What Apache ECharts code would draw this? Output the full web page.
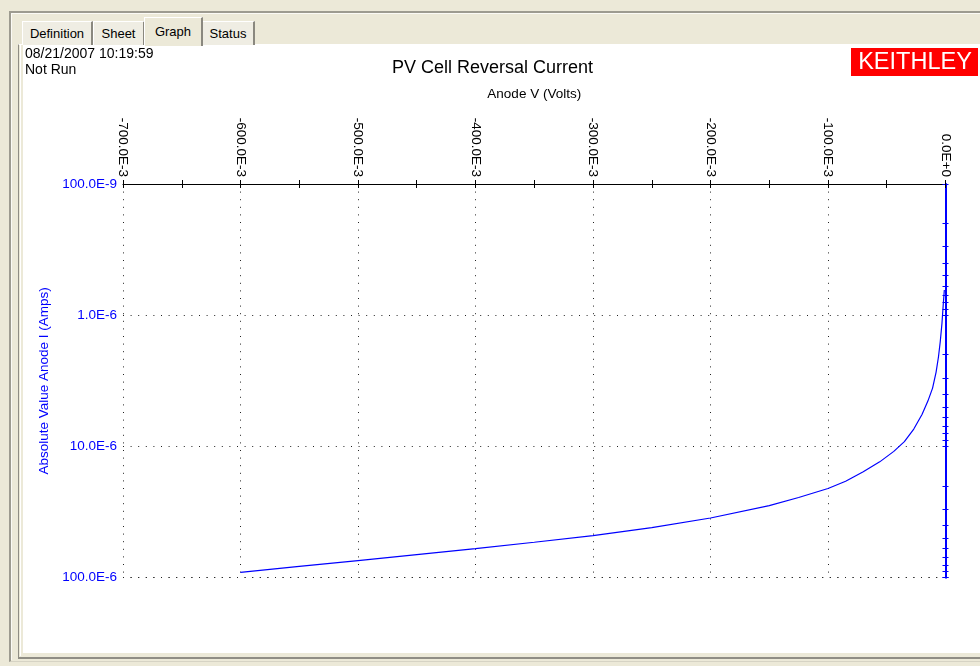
<!DOCTYPE html>
<html>
<head>
<meta charset="utf-8">
<script src="https://cdn.jsdelivr.net/npm/echarts@6/dist/echarts.min.js"></script>
<style>
  html, body { margin:0; padding:0; width:980px; height:666px; overflow:hidden; background:#ECE9D8; font-family:"Liberation Sans", Arial, sans-serif; }
  .abs { position:absolute; box-sizing:border-box; }
  #outer { left:9px; top:11px; width:975px; height:651px; border-top:2px solid #9d9b90; border-left:2px solid #9d9b90; border-bottom:1px solid #d6d3c4; }
  #outerHi { left:11px; top:13px; width:975px; height:647px; border-top:1px solid #fbfaf5; border-left:1px solid #fbfaf5; }
  #page { left:18px; top:44px; width:970px; height:615px; border-left:1px solid #8f8d84; border-bottom:2px solid #8f8d84; border-top:1px solid #ffffff; background:#ECE9D8; }
  #pageHi { left:20px; top:45px; width:970px; height:611px; border-left:1px solid #ffffff; }
  #white { left:23px; top:45px; width:960px; height:608px; background:#ffffff; }
  .tab { position:absolute; box-sizing:border-box; background:#EFEDE3; border-left:1px solid #ffffff; border-top:1px solid #ffffff; border-right:2px solid #8a887f; font-size:13px; color:#000; text-align:center; }
  #chart { position:absolute; left:0; top:0; width:980px; height:666px; }
</style>
</head>
<body>
<div id="outer" class="abs"></div>
<div id="outerHi" class="abs"></div>
<div id="page" class="abs"></div>
<div id="pageHi" class="abs"></div>
<div id="white" class="abs"></div>
<div class="tab" style="left:22px; top:21px; width:71px; height:24px; line-height:23px;">Definition</div>
<div class="tab" style="left:93px; top:21px; width:52px; height:24px; line-height:23px;">Sheet</div>
<div class="tab" style="left:202px; top:21px; width:53px; height:24px; line-height:23px;">Status</div>
<div class="tab" style="left:144px; top:17px; width:59px; height:29px; line-height:27px; background:#ECE9D8;">Graph</div>
<div id="chart"></div>
<script>
// ---- data ----
const voltage = [-0.600, -0.550, -0.500, -0.450, -0.400, -0.350, -0.300, -0.250, -0.200, -0.150, -0.125, -0.100, -0.085, -0.070, -0.056, -0.044, -0.035, -0.027, -0.020, -0.015, -0.011, -0.008, -0.006, -0.0045, -0.003, -0.002, -0.001];
const current = [9.11e-5, 8.20e-5, 7.41e-5, 6.68e-5, 6.00e-5, 5.37e-5, 4.78e-5, 4.15e-5, 3.51e-5, 2.82e-5, 2.45e-5, 2.09e-5, 1.84e-5, 1.56e-5, 1.31e-5, 1.09e-5, 9.18e-6, 7.37e-6, 5.71e-6, 4.51e-6, 3.59e-6, 2.71e-6, 2.08e-6, 1.60e-6, 1.15e-6, 8.51e-7, 6.43e-7];
const xTickLabels = ['-700.0E-3', '-600.0E-3', '-500.0E-3', '-400.0E-3', '-300.0E-3', '-200.0E-3', '-100.0E-3', '0.0E+0'];
const yTickLabels = ['100.0E-9', '1.0E-6', '10.0E-6', '100.0E-6'];
const titleText = 'PV Cell Reversal Current';
const xName = 'Anode V (Volts)';
const yName = 'Absolute Value Anode I (Amps)';
const stampLines = ['08/21/2007 10:19:59', 'Not Run'];
const logoText = 'KEITHLEY';

const FONT = '"Liberation Sans", Arial, sans-serif';
const BLUE = '#0000ff';
const GRIDC = '#222';
const seriesData = voltage.map((v, i) => [v, current[i]]);

const chart = echarts.init(document.getElementById('chart'), null, { renderer: 'canvas' });
const xCommon = { type: 'value', position: 'top', min: -0.7, max: 0, interval: 0.1 };
const yCommon = { type: 'log', logBase: 10, min: 1e-7, max: 1e-4, inverse: true };
chart.setOption({
  backgroundColor: 'transparent',
  animation: false,
  title: {
    text: titleText, left: 392, top: 59, padding: 0,
    textStyle: { fontFamily: FONT, fontSize: 18, fontWeight: 'normal', color: '#000' }
  },
  grid: { left: 123, right: 34.5, top: 184, bottom: 88.3, containLabel: false },
  xAxis: [
    Object.assign({}, xCommon, {
      name: xName, nameLocation: 'middle', nameGap: 83,
      nameTextStyle: { fontFamily: FONT, fontSize: 13.5, color: '#000' },
      axisLine: { show: true, onZero: false, lineStyle: { color: '#000', width: 1.2 } },
      axisTick: { show: true, inside: false, length: 4, lineStyle: { color: '#000' } },
      minorTick: { show: true, splitNumber: 2, length: 4, lineStyle: { color: '#000' } },
      axisLabel: {
        rotate: 90, margin: 7, fontFamily: FONT, fontSize: 13.5, color: '#000',
        formatter: v => xTickLabels[Math.round(v * 10) + 7]
      },
      splitLine: { show: true, lineStyle: { color: GRIDC, type: [1, 6.6], width: 1 } }
    }),
    Object.assign({}, xCommon, {
      axisLine: { show: false, onZero: false },
      axisTick: { show: true, inside: true, length: 4, lineStyle: { color: '#000' } },
      minorTick: { show: true, splitNumber: 2, length: 4, lineStyle: { color: '#000' } },
      axisLabel: { show: false },
      splitLine: { show: false }
    })
  ],
  yAxis: [
    Object.assign({}, yCommon, {
      position: 'left',
      name: yName, nameLocation: 'middle', nameGap: 71,
      nameTextStyle: { fontFamily: FONT, fontSize: 13.5, color: BLUE },
      axisLine: { show: false, onZero: false },
      axisTick: { show: false },
      axisLabel: {
        margin: 6, fontFamily: FONT, fontSize: 13.5, color: BLUE,
        formatter: v => yTickLabels[Math.round(Math.log10(v)) + 7]
      },
      splitLine: { show: true, lineStyle: { color: GRIDC, type: [1, 6.6], width: 1 } }
    }),
    Object.assign({}, yCommon, {
      position: 'right',
      axisLine: { show: true, onZero: false, lineStyle: { color: BLUE, width: 2 } },
      axisTick: { show: true, inside: false, length: 3, lineStyle: { color: BLUE } },
      minorTick: { show: true, splitNumber: 9, length: 3, lineStyle: { color: BLUE } },
      axisLabel: { show: false },
      splitLine: { show: false }
    }),
    Object.assign({}, yCommon, {
      position: 'right',
      axisLine: { show: false, onZero: false },
      axisTick: { show: true, inside: true, length: 3, lineStyle: { color: BLUE } },
      minorTick: { show: true, splitNumber: 9, length: 3, lineStyle: { color: BLUE } },
      axisLabel: { show: false },
      splitLine: { show: false }
    })
  ],
  series: [{
    type: 'line',
    xAxisIndex: 0, yAxisIndex: 0,
    data: seriesData,
    showSymbol: false,
    smooth: false,
    silent: true,
    lineStyle: { color: BLUE, width: 1.2 },
    z: 5
  }],
  graphic: [
    { type: 'text', left: 25, top: 47, style: { text: stampLines[0], fontFamily: FONT, fontSize: 14, fill: '#000' } },
    { type: 'text', left: 25, top: 63, style: { text: stampLines[1], fontFamily: FONT, fontSize: 14, fill: '#000' } },
    { type: 'rect', left: 851, top: 48, shape: { width: 127, height: 28 }, style: { fill: '#ff0000' } },
    { type: 'text', x: 915, y: 63, style: { text: logoText, fontFamily: FONT, fontSize: 23.5, fill: '#ffffff', align: 'center', verticalAlign: 'middle' } }
  ]
});
</script>
</body>
</html>
